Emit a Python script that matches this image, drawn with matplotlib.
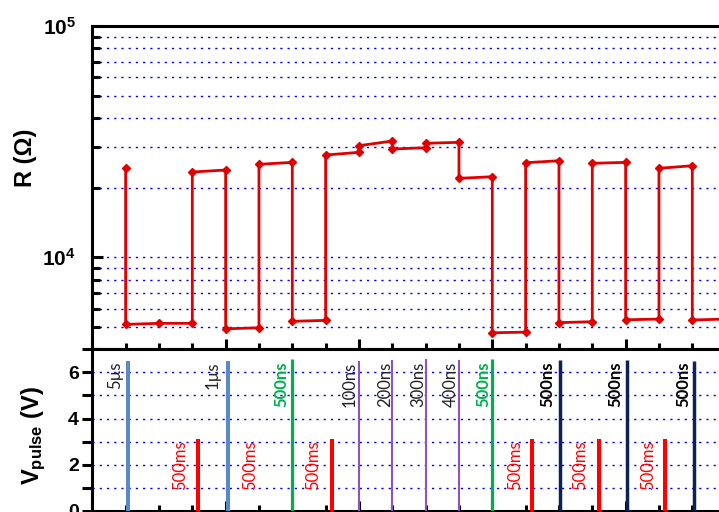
import matplotlib.pyplot as plt
from matplotlib.ticker import MultipleLocator, FixedLocator, NullFormatter

plt.rcParams['font.family'] = 'Liberation Sans'
plt.rcParams['mathtext.fontset'] = 'custom'
plt.rcParams['mathtext.rm'] = 'Liberation Sans:bold'
plt.rcParams['mathtext.bf'] = 'Liberation Sans:bold'
plt.rcParams['mathtext.it'] = 'Liberation Sans:bold'

# resistance read after each pulse (pulse number, ohms)
r_x = [1, 1, 2, 3, 3, 4, 4, 5, 5, 6, 6, 7, 7, 8, 8, 9, 9, 10, 10, 11, 11,
       12, 12, 13, 13, 14, 14, 15, 15, 16, 16, 17, 17, 18, 18, 19]
r_ohm = [24400, 5130, 5185, 5185, 23380, 23850, 4910, 4960, 25240, 25740,
         5290, 5340, 27690, 28440, 30380, 31830, 29390, 29770, 31110, 31420,
         21950, 22310, 4720, 4750, 25640, 26160, 5220, 5270, 25490, 25740,
         5370, 5410, 24260, 24890, 5360, 5410]

# applied pulses
pulse_x = [1.08, 3.18, 4.08, 6.0, 7.18, 8.0, 9.0, 10.0, 11.0, 12.0, 13.2,
           14.02, 15.2, 16.05, 17.18, 18.05]
pulse_v = [6.5, 3.1, 6.5, 6.6, 3.1, 6.5, 6.55, 6.6, 6.55, 6.6, 3.1, 6.55,
           3.1, 6.55, 3.1, 6.5]
pulse_kind = ['blue', 'red', 'blue', 'green', 'red', 'purple', 'purple',
              'purple', 'purple', 'green', 'red', 'navy', 'red', 'navy',
              'red', 'navy']

kind_color = {'blue': '#5b88c6', 'red': '#ff0000', 'green': '#00b050',
              'purple': '#8a55c0', 'navy': '#0d2254'}
kind_width = {'blue': 2.9, 'red': 2.9, 'green': 2.3, 'purple': 1.5,
              'navy': 2.5}

# pulse width labels (x, text, kind)
width_labels = [(0.69, '5µs', 'plain'), (3.62, '1µs', 'plain'),
                (5.66, '500ns', 'green'), (7.73, '100ns', 'plain'),
                (8.78, '200ns', 'plain'), (9.77, '300ns', 'plain'),
                (10.76, '400ns', 'plain'), (11.72, '500ns', 'green'),
                (13.64, '500ns', 'bold'), (15.68, '500ns', 'bold'),
                (17.72, '500ns', 'bold')]
reset_label_x = [2.63, 4.73, 6.62, 12.68, 14.63, 16.67]

fig = plt.figure(figsize=(7.19, 5.12), dpi=100)
W, H = 719.0, 512.0
left = 92.3 / W
width = (33.333 * 20) / W
ax1 = fig.add_axes([left, (H - 349.4) / H, width, (349.4 - 26) / H])
ax2 = fig.add_axes([left, (H - 510.7) / H, width, (510.7 - 349.4) / H])

grid_kw = dict(color='#0000ff', linestyle=(0, (1.6, 3.6)), linewidth=1.0)

# --- resistance panel
ax1.set_yscale('log')
ax1.set_ylim(4000, 1e5)
ax1.set_xlim(0, 20)
ax1.plot(r_x, r_ohm, color='#e00000', lw=2.0, marker='D', ms=4.5,
         zorder=3)
ax1.yaxis.set_major_locator(FixedLocator([1e4, 1e5]))
ax1.yaxis.set_minor_locator(FixedLocator(
    [4000, 5000, 6000, 7000, 8000, 9000,
     20000, 30000, 40000, 50000, 60000, 70000, 80000, 90000]))
ax1.yaxis.set_minor_formatter(NullFormatter())
ax1.set_yticklabels([r'$\mathbf{10^{4}}$', r'$\mathbf{10^{5}}$'],
                    fontsize=15)
ax1.grid(True, which='both', axis='y', **grid_kw)
ax1.set_axisbelow(True)
ax1.xaxis.set_major_locator(MultipleLocator(4))
ax1.xaxis.set_minor_locator(MultipleLocator(1))
ax1.tick_params(axis='x', which='both', direction='in', bottom=True,
                top=False, labelbottom=False, width=2.2)
ax1.tick_params(axis='x', which='major', length=7)
ax1.tick_params(axis='x', which='minor', length=4)
ax1.tick_params(axis='y', which='both', direction='in', width=2.2,
                right=False, pad=12)
ax1.tick_params(axis='y', which='major', length=8)
ax1.tick_params(axis='y', which='minor', length=5.5)
ax1.set_ylabel('R (Ω)', fontsize=17, fontweight='bold')
ax1.yaxis.set_label_coords(-55 / 666.7, 0.593)

# --- pulse panel
ax2.set_xlim(0, 20)
ax2.set_ylim(0, 7)
for x, v, k in zip(pulse_x, pulse_v, pulse_kind):
    ax2.vlines(x, 0, v, colors=kind_color[k], linewidth=kind_width[k],
               zorder=3)
for x, txt, k in width_labels:
    if k == 'green':
        ax2.text(x, 6.48, txt, rotation=90, ha='center', va='top',
                 color='#00b050', fontweight='bold', fontsize=12,
                 family='Lato')
    elif k == 'bold':
        ax2.text(x, 6.48, txt, rotation=90, ha='center', va='top',
                 color='black', fontweight='bold', fontsize=12,
                 family='Lato')
    else:
        ax2.text(x, 6.48, txt, rotation=90, ha='center', va='top',
                 color='#222222', fontsize=12, family='Lato')
for x in reset_label_x:
    ax2.text(x, 1.96, '500ms', rotation=90, ha='center', va='center',
             color='#ff0000', fontsize=12, family='Lato')

ax2.yaxis.set_major_locator(MultipleLocator(2))
ax2.yaxis.set_minor_locator(MultipleLocator(1))
ax2.set_yticks([0, 2, 4, 6])
ax2.set_yticklabels(['0', '2', '4', '6'], fontsize=14, fontweight='bold')
ax2.grid(True, which='both', axis='y', **grid_kw)
ax2.set_axisbelow(True)
ax2.xaxis.set_major_locator(MultipleLocator(4))
ax2.xaxis.set_minor_locator(MultipleLocator(1))
ax2.tick_params(axis='x', which='both', direction='in', bottom=True,
                top=False, labelbottom=False, width=2.2)
ax2.tick_params(axis='x', which='major', length=7)
ax2.tick_params(axis='x', which='minor', length=4)
ax2.tick_params(axis='y', which='both', direction='out', width=2.2,
                length=7.5, pad=2)
ax2.set_ylabel(r'$\mathbf{V_{pulse}}$ (V)', fontsize=17, fontweight='bold')
ax2.yaxis.set_label_coords(-44 / 666.7, 0.463)

for ax in (ax1, ax2):
    for sp in ax.spines.values():
        sp.set_linewidth(2.2)

fig.savefig('out.png', dpi=100)
